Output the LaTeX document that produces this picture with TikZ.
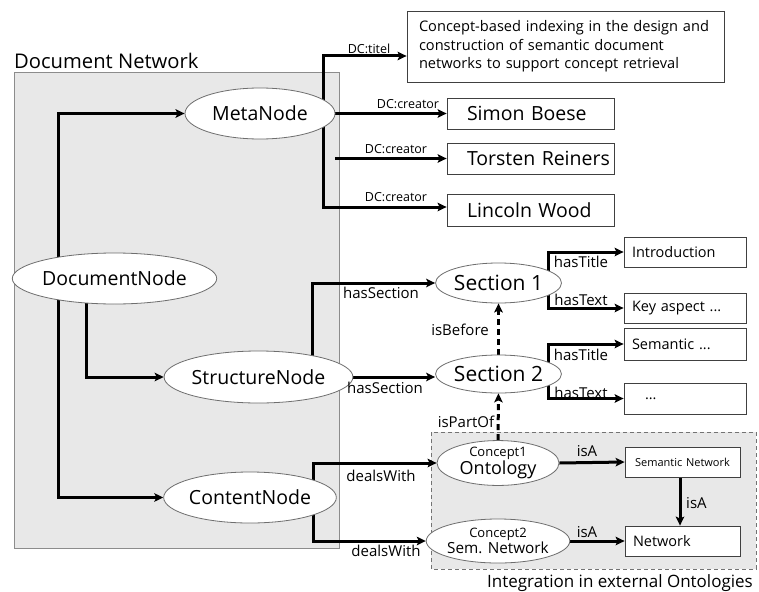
\documentclass[tikz,border=0pt]{standalone}
\usepackage{fontspec}
\setmainfont{Open Sans}
\usetikzlibrary{shapes.geometric,arrows.meta}
\pgfdeclarelayer{bg}
\pgfdeclarelayer{wires}
\pgfsetlayers{bg,wires,main}
\newcommand\fsz[1]{\fontsize{#1}{#1}\selectfont}
\definecolor{panel}{RGB}{232,232,232}
\definecolor{rim}{RGB}{110,110,110}
\tikzset{
  ell/.style={ellipse, draw=rim, line width=0.8pt, fill=white, inner sep=0pt},
  bigell/.style={ell, font=\fsz{19.5}},
  secell/.style={ell, font=\fsz{21}, minimum width=121pt},
  tbox/.style={rectangle, draw=black!75, line width=0.8pt, fill=white, align=left, inner ysep=0pt},
  person/.style={tbox, font=\fsz{19.5}, text width=127pt, inner xsep=20pt},
  leaf/.style={tbox, font=\fsz{14.5}, text width=106pt, inner xsep=8pt},
  conn/.style={line width=3pt, -{Stealth[length=9pt,width=8.5pt,inset=2pt]}},
  dconn/.style={conn, dash pattern=on 6pt off 4pt},
  lbl/.style={inner sep=0pt, font=\fsz{15}},
  dclbl/.style={inner sep=0pt, font=\fsz{12.5}},
}
\begin{document}
\begin{tikzpicture}[x=1pt,y=-1pt]
\useasboundingbox (0,0) rectangle (759,591);

% panels
\begin{pgfonlayer}{bg}
  \fill[white] (0,0) rectangle (759,591);
  \draw[fill=panel, draw=black!45, line width=1pt] (14,73) rectangle (339,548);
  \draw[fill=panel, draw=black!55, line width=1pt, dash pattern=on 4pt off 3pt] (431,432) rectangle (756,569);
\end{pgfonlayer}
\node[anchor=base west, inner sep=0pt, font=\fsz{20.2}] (tDocNet) at (14,69) {Document Network};
\node[anchor=base, inner sep=0pt, font=\fsz{17}] (tInteg) at (620,587) {Integration in external Ontologies};

% spine positions
\coordinate (spA) at (58,0);
\coordinate (spB) at (86,0);
\coordinate (spC) at (323,0);
\coordinate (spD) at (312,0);
\coordinate (spE) at (548,0);
\coordinate (spF) at (313,0);

% ellipse nodes
\node[bigell, minimum width=150pt, minimum height=51pt] (meta) at (260,113.5) {MetaNode};
\node[bigell, minimum width=185pt, minimum height=51pt] (doc) at (114.5,278.5) {DocumentNode};
\node[bigell, minimum width=159pt, minimum height=52pt] (struct) at (258.5,377) {StructureNode};
\node[bigell, minimum width=170pt, minimum height=51pt] (content) at (250,497.5) {ContentNode};
\node[secell, minimum height=40pt] (sec1) at (498.5,283) {Section 1};
\node[secell, minimum height=38pt] (sec2) at (498.5,374) {Section 2};
\node[ell, align=center, font=\fontsize{13}{18}\selectfont, minimum width=122pt, minimum height=42pt] (c1) at (498,463)
  {Concept1\\{\fsz{18}Ontology}};
\node[ell, align=center, font=\fontsize{13}{16.5}\selectfont, minimum width=121pt, minimum height=44pt] (c2) at (498,541)
  {Concept2\\{\fsz{15.3}Sem. Network}};

% boxes
\node[tbox, font=\fontsize{14.6}{18.5}\selectfont, text width=293pt, inner xsep=12pt, minimum height=71pt] (titel) at (565.5,46.5)
  {Concept-based indexing in the design and\\
   construction of semantic document\\
   networks to support concept retrieval};
\node[person, minimum height=31pt] (simon) at (530.5,113.5) {\mbox{Simon Boese}};
\node[person, minimum height=31pt] (torsten) at (530.5,158.5) {\mbox{Torsten Reiners}};
\node[person, minimum height=32pt] (lincoln) at (530.5,210) {\mbox{Lincoln Wood}};
\node[leaf, minimum height=30pt] (intro) at (685,252) {Introduction};
\node[leaf, minimum height=30pt] (key) at (685,308) {Key aspect ...};
\node[leaf, minimum height=32pt] (sem) at (685,344) {Semantic ...};
\node[leaf, text width=80pt, inner xsep=21pt, minimum height=31pt] (dots) at (685,398.5) {...};
\node[tbox, font=\fsz{11}, align=center, text width=115pt, inner xsep=0pt, minimum height=30pt] (semnet) at (682.5,462) {Semantic Network};
\node[tbox, font=\fsz{14.5}, text width=99pt, inner xsep=8pt, minimum height=30pt] (net) at (682.5,541) {Network};

% connectors
\begin{pgfonlayer}{wires}
  \draw[conn] (doc.center -| spA) |- (meta.west);
  \draw[conn] (doc.center -| spA) |- (content.west);
  \draw[conn] (doc.center -| spB) |- (struct.west);
  \draw[conn] (meta.center -| spC) |- ([yshift=-9.5pt]titel.west);
  \draw[conn] (meta.center -| spC) |- ([yshift=3pt]lincoln.west);
  \draw[conn] (meta.east) -- (simon.west);
  \draw[conn] (torsten.west -| meta.east) -- (torsten.west);
  \draw[conn] (struct.center -| spD) |- (sec1.west);
  \draw[conn] (struct.east) -- (struct.east -| sec2.west);
  \draw[conn] (sec1.center -| spE) |- (intro.west);
  \draw[conn] (sec1.center -| spE) |- (key.west);
  \draw[conn] (sec2.center -| spE) |- (sem.west);
  \draw[conn] (sec2.center -| spE) |- (dots.west);
  \draw[dconn] (sec2.north) -- (sec1.south);
  \draw[dconn] (c1.north) -- (sec2.south);
  \draw[conn] (content.center -| spF) |- (c1.west);
  \draw[conn] (content.center -| spF) |- (c2.west);
  \draw[conn] (c1.east) -- (semnet.west);
  \draw[conn] ([xshift=-2.5pt]semnet.south) -- ([xshift=-2.5pt]net.north);
  \draw[conn] (c2.east) -- (net.west);
\end{pgfonlayer}

% connector labels
\node[dclbl] (lTitel) at (369,49) {DC:titel};
\node[dclbl] (lCre1) at (408,104) {DC:creator};
\node[dclbl] (lCre2) at (396,149) {DC:creator};
\node[dclbl] (lCre3) at (396,197.5) {DC:creator};
\node[lbl] (lSec1) at (381,293) {hasSection};
\node[lbl] (lSec2) at (385,388) {hasSection};
\node[lbl] (lBefore) at (460,330) {isBefore};
\node[lbl] (lPart) at (466,422) {isPartOf};
\node[lbl] (lTit1) at (581,262) {hasTitle};
\node[lbl] (lTxt1) at (581,300) {hasText};
\node[lbl] (lTit2) at (581,355) {hasTitle};
\node[lbl] (lTxt2) at (581,393) {hasText};
\node[lbl] (lDeal1) at (381,476) {dealsWith};
\node[lbl] (lDeal2) at (386,551) {dealsWith};
\node[lbl] (lIsA1) at (587,451.5) {isA};
\node[lbl, anchor=west] (lIsA2) at (686,503) {isA};
\node[lbl] (lIsA3) at (587,532) {isA};
\end{tikzpicture}
\end{document}
